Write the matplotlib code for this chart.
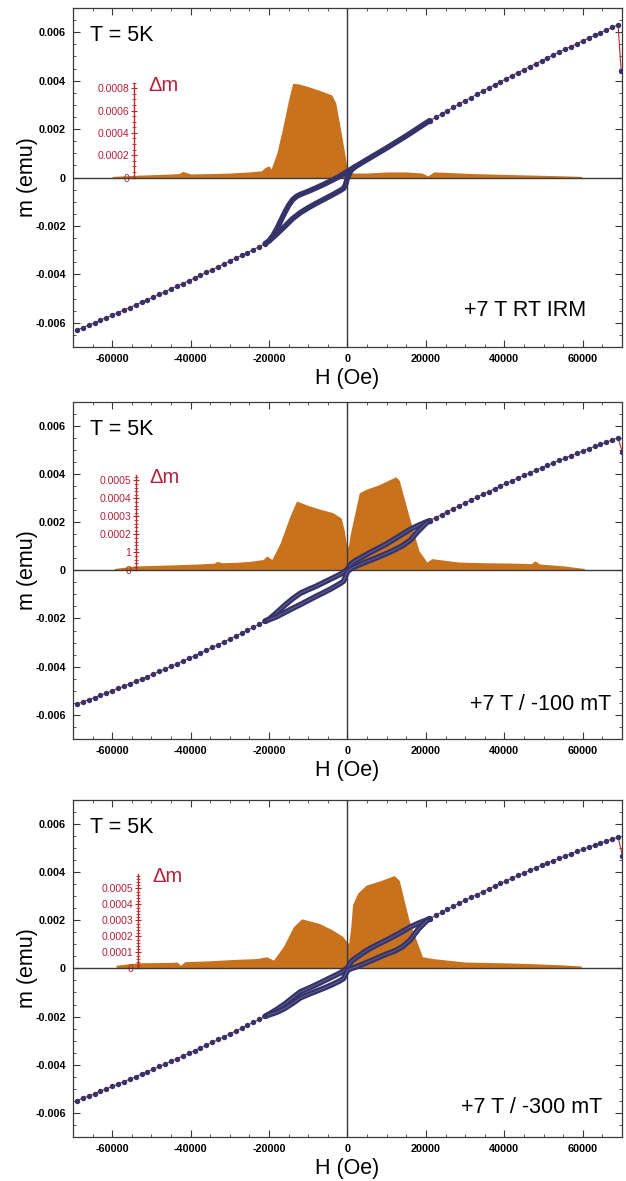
import numpy as np
import matplotlib
matplotlib.use('Agg')
import matplotlib.pyplot as plt
from matplotlib.ticker import MultipleLocator, FixedLocator, FuncFormatter

plt.rcParams['font.family'] = ['Liberation Sans', 'DejaVu Sans']
plt.rcParams['axes.unicode_minus'] = False

ORANGE = '#C9721E'
NAVY = '#35336A'
RED = '#C0272D'
RED_TXT = '#B5213A'

# field steps of the sparse part of the sweep (Oe)
H_neg = [-69000, -67500, -66000, -64500, -63000, -61500, -60000, -58500, -57000,
         -55500, -54000, -52500, -51000, -49500, -48000, -46500, -45000, -43500,
         -42000, -40500, -39000, -37500, -36000, -34500, -33000, -31500, -30000,
         -28500, -27000, -25500, -24000, -22500, -21000]
H_pos = [21000, 22500, 24000, 25500, 27000, 28500, 30000, 31500, 33000, 34500,
         36000, 37500, 39000, 40500, 42000, 43500, 45000, 46500, 48000, 49500,
         51000, 52500, 54000, 55500, 57000, 58500, 60000, 61500, 63000, 64500,
         66000, 67500, 69000]
# field of the dense loop part (Oe)
H_loop = [-21000, -20000, -18000, -16000, -14000, -12000, -10000, -8000, -6000,
          -4000, -2000, -1000, 0, 1000, 2000, 4000, 6000, 8000, 10000, 12000,
          14000, 16000, 18000, 20000, 21000]

# ---- panel 1 : +7 T RT IRM   (m in 1e-3 emu, dm in 1e-4 emu)
m1_neg = [-6.30, -6.20, -6.10, -6.00, -5.89, -5.79, -5.69, -5.58, -5.47, -5.37,
          -5.26, -5.15, -5.04, -4.94, -4.83, -4.71, -4.60, -4.49, -4.38, -4.27,
          -4.15, -4.04, -3.92, -3.81, -3.69, -3.57, -3.45, -3.33, -3.22, -3.10,
          -2.98, -2.85, -2.73]
m1_pos = [2.35, 2.49, 2.63, 2.76, 2.90, 3.04, 3.17, 3.30, 3.44, 3.57, 3.70, 3.83,
          3.95, 4.08, 4.21, 4.33, 4.46, 4.58, 4.70, 4.82, 4.94, 5.06, 5.18, 5.30,
          5.41, 5.53, 5.64, 5.76, 5.87, 5.98, 6.09, 6.20, 6.31]
drop1 = (69800, 4.38)
H1_up = [-21000, -20000, -19000, -18000, -17000, -16000, -15000, -14000, -13000,
         -12000, -10000, -8000, -6000, -4000, -2000, 0, 2000, 5000, 10000, 15000,
         20000, 21000]
m1_up = [-2.73, -2.62, -2.40, -2.12, -1.78, -1.45, -1.15, -0.92, -0.78, -0.70,
         -0.57, -0.43, -0.28, -0.12, 0.05, 0.25, 0.45, 0.74, 1.22, 1.72, 2.25, 2.35]
H1_low = [-20000, -18000, -16000, -14000, -12000, -10000, -8000, -6000, -4000,
          -2000, -1000, -500, 0, 1000, 2000]
m1_low = [-2.62, -2.33, -2.02, -1.70, -1.45, -1.25, -1.07, -0.90, -0.73, -0.55,
          -0.45, -0.30, 0.0, 0.32, 0.45]
H1_d = [-60000, -57000, -54000, -50000, -46000, -43000, -42000, -40000, -35000,
        -30000, -25000, -22000, -21000, -20000, -19500, -18000, -16500, -15000,
        -14000, -12500, -10000, -7000, -4000, -3000, -1600, -300, 0, 1000, 5000,
        10000, 15000, 19000, 20500, 22000, 26000, 32000, 40000, 47000, 55000,
        59500, 60000]
dm1 = [0.1, 0.15, 0.2, 0.25, 0.3, 0.35, 0.55, 0.32, 0.35, 0.4, 0.5, 0.6, 0.9, 1.05,
       0.75, 2.2, 4.5, 7.0, 8.45, 8.4, 8.15, 7.8, 7.4, 6.7, 4.0, 1.3, 0.5, 0.4, 0.4,
       0.5, 0.5, 0.4, 0.15, 0.5, 0.45, 0.35, 0.28, 0.22, 0.15, 0.1, 0.0]

# ---- panel 2 : +7 T / -100 mT
m2_neg = [-5.55, -5.46, -5.37, -5.28, -5.19, -5.10, -5.00, -4.90, -4.81, -4.71,
          -4.61, -4.51, -4.41, -4.30, -4.20, -4.09, -3.99, -3.88, -3.77, -3.66,
          -3.55, -3.43, -3.32, -3.20, -3.09, -2.97, -2.85, -2.73, -2.61, -2.49,
          -2.36, -2.24, -2.11]
m2_pos = [2.06, 2.19, 2.31, 2.44, 2.56, 2.68, 2.80, 2.92, 3.04, 3.15, 3.27, 3.38,
          3.50, 3.61, 3.72, 3.83, 3.94, 4.04, 4.15, 4.25, 4.36, 4.46, 4.56, 4.66,
          4.76, 4.85, 4.95, 5.05, 5.14, 5.23, 5.32, 5.41, 5.50]
drop2 = (70100, 4.89)
m2_up = [-2.11, -2.03, -1.75, -1.45, -1.18, -0.95, -0.80, -0.66, -0.50, -0.34,
         -0.18, -0.08, 0.05, 0.28, 0.40, 0.58, 0.76, 0.93, 1.10, 1.30, 1.50, 1.70,
         1.86, 2.00, 2.06]
m2_low = [-2.11, -2.05, -1.92, -1.75, -1.58, -1.42, -1.25, -1.08, -0.92, -0.75,
          -0.56, -0.45, -0.05, 0.08, 0.16, 0.30, 0.43, 0.56, 0.70, 0.85, 1.02, 1.25,
          1.62, 1.95, 2.06]
H2_d = [-59500, -54400, -45000, -38000, -34000, -33200, -32000, -28000, -24800,
        -21500, -20600, -19300, -17200, -14700, -13000, -10000, -7100, -3700, -1600,
        -800, -300, 200, 700, 1800, 3000, 4700, 8000, 12300, 13200, 15700, 18200,
        20250, 21500, 25000, 28400, 35000, 42000, 46900, 47800, 49000, 55000, 60400]
dm2 = [0.1, 0.24, 0.3, 0.35, 0.4, 0.5, 0.42, 0.45, 0.5, 0.6, 0.8, 0.6, 1.5, 3.0,
       3.85, 3.6, 3.4, 3.2, 2.9, 2.2, 1.5, 1.3, 2.0, 3.1, 4.3, 4.5, 4.75, 5.2, 5.0,
       3.0, 1.1, 0.46, 0.65, 0.55, 0.46, 0.42, 0.4, 0.37, 0.53, 0.35, 0.25, 0.1]

# ---- panel 3 : +7 T / -300 mT
m3_neg = [-5.49, -5.39, -5.30, -5.20, -5.10, -5.00, -4.90, -4.80, -4.70, -4.60,
          -4.50, -4.39, -4.29, -4.18, -4.07, -3.97, -3.86, -3.75, -3.64, -3.53,
          -3.41, -3.30, -3.19, -3.07, -2.95, -2.84, -2.72, -2.60, -2.48, -2.36,
          -2.24, -2.12, -1.99]
m3_pos = [2.07, 2.20, 2.33, 2.45, 2.58, 2.71, 2.83, 2.95, 3.07, 3.19, 3.30, 3.42,
          3.53, 3.64, 3.75, 3.86, 3.97, 4.07, 4.18, 4.28, 4.38, 4.48, 4.57, 4.67,
          4.76, 4.86, 4.95, 5.03, 5.12, 5.21, 5.29, 5.37, 5.46]
drop3 = (70100, 4.69)
m3_up = [-1.99, -1.90, -1.70, -1.48, -1.22, -0.97, -0.83, -0.68, -0.52, -0.36,
         -0.20, -0.10, 0.03, 0.30, 0.42, 0.65, 0.85, 1.02, 1.18, 1.35, 1.53, 1.72,
         1.87, 2.00, 2.07]
m3_low = [-1.99, -1.93, -1.82, -1.66, -1.45, -1.22, -1.08, -0.95, -0.82, -0.68,
          -0.52, -0.42, -0.08, 0.0, 0.05, 0.18, 0.32, 0.46, 0.60, 0.72, 0.90, 1.18,
          1.62, 1.95, 2.07]
H3_d = [-59000, -53500, -45000, -43400, -42600, -41500, -35000, -29000, -23000,
        -20600, -18900, -16400, -13800, -11700, -7100, -3800, -1200, -300, 300, 800,
        1300, 2600, 4700, 8000, 11900, 13200, 15700, 19100, 21600, 30000, 40000,
        46900, 55000, 59600]
dm3 = [0.2, 0.35, 0.38, 0.4, 0.2, 0.42, 0.48, 0.56, 0.62, 0.73, 0.52, 1.35, 2.6, 3.1,
       2.8, 2.4, 2.0, 1.7, 1.55, 2.5, 4.0, 4.7, 5.2, 5.45, 5.8, 5.5, 3.0, 0.73, 0.62,
       0.4, 0.35, 0.3, 0.22, 0.15]

labels = ['+7 T RT IRM', '+7 T / -100 mT', '+7 T / -300 mT']
dm_ticklabels = [['0', '0.0002', '0.0004', '0.0006', '0.0008'],
                 ['0', '1', '0.0002', '0.0003', '0.0004', '0.0005'],
                 ['0', '0.0001', '0.0002', '0.0003', '0.0004', '0.0005']]


def yfmt(v, pos):
    if abs(v) < 1e-12:
        return '0'
    return f'{v:.3f}'


def draw_panel(ax, m_neg, m_pos, drop, loops, Hd, dm, dm_lim, dm_top, dm_x,
               dm_ticks, dm_labels, dm_minor, label, label_xy, two_tone):
    ax.set_xlim(-70000, 70000)
    ax.set_ylim(-0.007, 0.007)
    ax.axhline(0, color='#3a3a3a', lw=1.0, zorder=2)
    ax.axvline(0, color='#3a3a3a', lw=1.0, zorder=2)

    # delta m on its own scale, drawn beneath
    axd = ax.twinx()
    ax.set_zorder(axd.get_zorder() + 1)
    ax.patch.set_visible(False)
    axd.set_ylim(-dm_lim, dm_lim)
    axd.fill_between(Hd, 0, np.array(dm) * 1e-4, color=ORANGE, lw=0)
    for s in ['top', 'bottom', 'right']:
        axd.spines[s].set_visible(False)
    axd.spines['left'].set_visible(True)
    axd.spines['left'].set_position(('data', dm_x))
    axd.spines['left'].set_bounds(0, dm_top)
    axd.spines['left'].set_color(RED)
    axd.spines['left'].set_linewidth(1.0)
    axd.yaxis.set_ticks_position('left')
    axd.yaxis.set_major_locator(FixedLocator(dm_ticks))
    axd.set_yticklabels(dm_labels)
    axd.yaxis.set_minor_locator(FixedLocator(dm_minor))
    axd.tick_params(which='major', direction='inout', length=4, width=0.8,
                    colors=RED, labelcolor=RED_TXT, labelsize=7.6, pad=1.5)
    axd.tick_params(which='minor', direction='inout', length=2.2, width=0.6,
                    colors=RED)
    axd.text(dm_x + 3500, dm_top * 0.97, '\u0394m', color=RED_TXT, fontsize=14.5,
             ha='left', va='center')

    # hysteresis
    Hn = np.array(H_neg)
    Hp = np.array(H_pos)
    mn = np.array(m_neg) * 1e-3
    mp = np.array(m_pos) * 1e-3
    for Hh, mm in loops:
        ax.plot(Hh, np.array(mm) * 1e-3, color=NAVY, lw=4.0,
                solid_capstyle='round', solid_joinstyle='round', zorder=4)
        if two_tone:
            ax.plot(Hh, np.array(mm) * 1e-3, color='#5d5a8c', lw=0.8, zorder=4)
    ax.plot(Hn, mn, color=RED, lw=0.8, zorder=3)
    ax.plot(np.append(Hp, drop[0]), np.append(mp, drop[1] * 1e-3),
            color=RED, lw=0.8, zorder=3)
    ax.plot(Hn, mn, 'o', color=NAVY, ms=3.9, mec='none', zorder=5)
    ax.plot(np.append(Hp, drop[0]), np.append(mp, drop[1] * 1e-3), 'o',
            color=NAVY, ms=3.9, mec='none', zorder=5)

    # axes styling
    ax.xaxis.set_major_locator(FixedLocator([-60000, -40000, -20000, 0, 20000,
                                             40000, 60000]))
    ax.xaxis.set_minor_locator(MultipleLocator(5000))
    ax.yaxis.set_major_locator(MultipleLocator(0.002))
    ax.yaxis.set_minor_locator(MultipleLocator(0.0005))
    ax.yaxis.set_major_formatter(FuncFormatter(yfmt))
    ax.tick_params(which='both', direction='in', top=True, right=True,
                   colors='#3a3a3a', labelcolor='black')
    ax.tick_params(which='major', length=5, width=0.8, labelsize=7.8, pad=5)
    ax.tick_params(which='minor', length=2.5, width=0.6)
    for t in ax.get_xticklabels() + ax.get_yticklabels():
        t.set_fontweight('bold')
    for s in ax.spines.values():
        s.set_color('#3a3a3a')
        s.set_linewidth(0.9)
    ax.set_xlabel('H (Oe)', fontsize=15.5, labelpad=3)
    ax.set_ylabel('m (emu)', fontsize=15.5, labelpad=-2)
    ax.text(0.031, label_xy[2], 'T = 5K', transform=ax.transAxes, fontsize=15.5,
            ha='left', va='center')
    ax.text(label_xy[0], label_xy[1], label, transform=ax.transAxes,
            fontsize=15.5, ha='right', va='center')


fig = plt.figure(figsize=(6.26, 11.81), dpi=100)
ax1 = fig.add_axes([0.1166, 0.7062, 0.877, 0.2870])
ax2 = fig.add_axes([0.1166, 0.3743, 0.877, 0.2856])
ax3 = fig.add_axes([0.1166, 0.0373, 0.877, 0.2854])

draw_panel(ax1, m1_neg, m1_pos, drop1,
           [(H1_up, m1_up), (H1_low, m1_low)],
           H1_d, dm1, 0.00152, 0.00085, -54400,
           [0, 0.0002, 0.0004, 0.0006, 0.0008], dm_ticklabels[0],
           np.arange(0, 0.00086, 0.00005), labels[0], (0.934, 0.109, 0.92), False)
draw_panel(ax2, m2_neg, m2_pos, drop2,
           [(H_loop, m2_up), (H_loop, m2_low)],
           H2_d, dm2, 0.000937, 0.00053, -53900,
           [0, 0.0001, 0.0002, 0.0003, 0.0004, 0.0005], dm_ticklabels[1],
           np.arange(0, 0.000531, 0.00002), labels[1], (0.98, 0.101, 0.916), True)
draw_panel(ax3, m3_neg, m3_pos, drop3,
           [(H_loop, m3_up), (H_loop, m3_low)],
           H3_d, dm3, 0.001053, 0.00059, -53300,
           [0, 0.0001, 0.0002, 0.0003, 0.0004, 0.0005], dm_ticklabels[2],
           np.arange(0, 0.000591, 0.00002), labels[2], (0.964, 0.086, 0.917), True)

fig.savefig('out.png', dpi=100, facecolor='white')
